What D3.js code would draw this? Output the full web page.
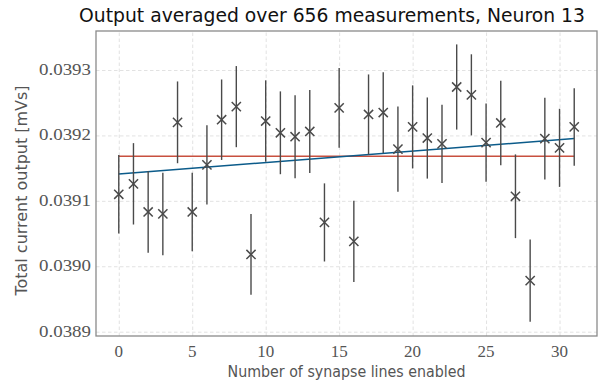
<!DOCTYPE html>
<html>
<head>
<meta charset="utf-8">
<script src="https://cdn.jsdelivr.net/npm/d3@7"></script>
<style>
  body { margin: 0; background: #fff; }
</style>
</head>
<body>
<div id="chart"></div>
<script>
// number of synapse lines enabled (x values)
const lines = d3.range(0, 32);
// averaged output per setting [mVs]
const outputs = [
  0.039110, 0.039126, 0.039083, 0.039080, 0.039220, 0.039083, 0.039155, 0.039224,
  0.039244, 0.039018, 0.039222, 0.039204, 0.039198, 0.039206, 0.039067, 0.039242,
  0.039038, 0.039232, 0.039235, 0.039179, 0.039213, 0.039196, 0.039187, 0.039274,
  0.039262, 0.039189, 0.039219, 0.039107, 0.038978, 0.039195, 0.039181, 0.039213
];
// half length of the error bars
const errors = [
  0.0000600, 0.0000622, 0.0000622, 0.0000630, 0.0000625, 0.0000600, 0.0000607, 0.0000615,
  0.0000620, 0.0000617, 0.0000622, 0.0000633, 0.0000635, 0.0000635, 0.0000597, 0.0000610,
  0.0000622, 0.0000612, 0.0000617, 0.0000653, 0.0000635, 0.0000620, 0.0000597, 0.0000651,
  0.0000620, 0.0000597, 0.0000645, 0.0000640, 0.0000630, 0.0000625, 0.0000597, 0.0000592
];
const xTicks = [0, 5, 10, 15, 20, 25, 30];
const yTicks = [0.0389, 0.0390, 0.0391, 0.0392, 0.0393];

const settings = {
  width: 603,
  height: 381,
  margin: { top: 31, right: 6, bottom: 45, left: 96 },
  xDomain: [-1.55, 32.55],
  yDomain: [0.0388934, 0.0393596],
  markerSize: 4.6,
  pointColor: "#4a4a4a",
  meanColor: "#c8503f",
  fitColor: "#0b5b8a",
  gridColor: "#e2e2e2",
  frameColor: "#8a8a8a",
  serifFont: "Times New Roman, Liberation Serif, Tinos, DejaVu Serif, serif",
  sansFont: "DejaVu Sans, sans-serif",
  labelColor: "#555",
};

function drawChart(settings) {
  const m = settings.margin;
  const svg = d3.select("#chart").append("svg")
    .attr("width", settings.width)
    .attr("height", settings.height);

  const x = d3.scaleLinear().domain(settings.xDomain).range([m.left, settings.width - m.right]);
  const y = d3.scaleLinear().domain(settings.yDomain).range([settings.height - m.bottom, m.top]);

  // grid (dashed, light)
  svg.append("g")
    .attr("transform", `translate(0,${settings.height - m.bottom})`)
    .call(d3.axisBottom(x).tickValues(xTicks).tickSize(-(settings.height - m.top - m.bottom)).tickFormat(""))
    .call(g => g.select(".domain").remove())
    .call(g => g.selectAll("line").attr("stroke", settings.gridColor).attr("stroke-dasharray", "3.5,2.5"));
  svg.append("g")
    .attr("transform", `translate(${m.left},0)`)
    .call(d3.axisLeft(y).tickValues(yTicks).tickSize(-(settings.width - m.left - m.right)).tickFormat(""))
    .call(g => g.select(".domain").remove())
    .call(g => g.selectAll("line").attr("stroke", settings.gridColor).attr("stroke-dasharray", "3.5,2.5"));

  const points = lines.map((v, i) => ({ x: v, y: outputs[i], e: errors[i] }));

  // mean line
  const mean = d3.mean(outputs);
  svg.append("line")
    .attr("x1", x(lines[0])).attr("x2", x(lines[lines.length - 1]))
    .attr("y1", y(mean)).attr("y2", y(mean))
    .attr("stroke", settings.meanColor).attr("stroke-width", 1.5);

  // linear fit
  const mx = d3.mean(lines);
  const sxy = d3.sum(points, d => (d.x - mx) * (d.y - mean));
  const sxx = d3.sum(points, d => (d.x - mx) * (d.x - mx));
  const slope = sxy / sxx;
  const intercept = mean - slope * mx;
  const x0 = lines[0], x1 = lines[lines.length - 1];
  svg.append("line")
    .attr("x1", x(x0)).attr("x2", x(x1))
    .attr("y1", y(intercept + slope * x0)).attr("y2", y(intercept + slope * x1))
    .attr("stroke", settings.fitColor).attr("stroke-width", 1.5);

  // error bars
  svg.append("g").selectAll("line")
    .data(points).enter().append("line")
    .attr("x1", d => x(d.x)).attr("x2", d => x(d.x))
    .attr("y1", d => y(d.y - d.e)).attr("y2", d => y(d.y + d.e))
    .attr("stroke", settings.pointColor).attr("stroke-width", 1.4);

  // x markers
  const s = settings.markerSize;
  svg.append("g").selectAll("path")
    .data(points).enter().append("path")
    .attr("d", d => {
      const cx = x(d.x), cy = y(d.y);
      return `M${cx - s},${cy - s}L${cx + s},${cy + s}M${cx - s},${cy + s}L${cx + s},${cy - s}`;
    })
    .attr("stroke", settings.pointColor).attr("stroke-width", 1.5).attr("fill", "none");

  // frame
  svg.append("rect")
    .attr("x", m.left).attr("y", m.top)
    .attr("width", settings.width - m.left - m.right)
    .attr("height", settings.height - m.top - m.bottom)
    .attr("fill", "none").attr("stroke", settings.frameColor).attr("stroke-width", 1.3);

  // tick labels
  svg.append("g").selectAll("text")
    .data(xTicks).enter().append("text")
    .attr("x", d => x(d)).attr("y", 357)
    .attr("text-anchor", "middle")
    .attr("font-family", settings.serifFont).attr("font-size", 17)
    .attr("fill", settings.labelColor)
    .text(d => d);
  svg.append("g").selectAll("text")
    .data(yTicks).enter().append("text")
    .attr("x", 91).attr("y", d => y(d) + 5)
    .attr("text-anchor", "end")
    .attr("font-family", settings.serifFont).attr("font-size", 17)
    .attr("fill", settings.labelColor)
    .attr("textLength", 52).attr("lengthAdjust", "spacingAndGlyphs")
    .text(d => d3.format(".4f")(d));

  // axis labels
  svg.append("text")
    .attr("x", (m.left + settings.width - m.right) / 2).attr("y", 377)
    .attr("text-anchor", "middle")
    .attr("font-family", settings.sansFont).attr("font-size", 15)
    .attr("fill", settings.labelColor)
    .attr("textLength", 238).attr("lengthAdjust", "spacingAndGlyphs")
    .text("Number of synapse lines enabled");
  svg.append("text")
    .attr("transform", `translate(27,${(m.top + settings.height - m.bottom) / 2 + 7}) rotate(-90)`)
    .attr("text-anchor", "middle")
    .attr("font-family", settings.sansFont).attr("font-size", 15)
    .attr("fill", settings.labelColor)
    .attr("textLength", 210).attr("lengthAdjust", "spacingAndGlyphs")
    .text("Total current output [mVs]");

  // title
  svg.append("text")
    .attr("x", 332).attr("y", 22)
    .attr("text-anchor", "middle")
    .attr("font-family", settings.sansFont).attr("font-size", 19)
    .attr("fill", "#111")
    .attr("textLength", 506).attr("lengthAdjust", "spacingAndGlyphs")
    .text("Output averaged over 656 measurements, Neuron 13");
}

drawChart(settings);
</script>
</body>
</html>
